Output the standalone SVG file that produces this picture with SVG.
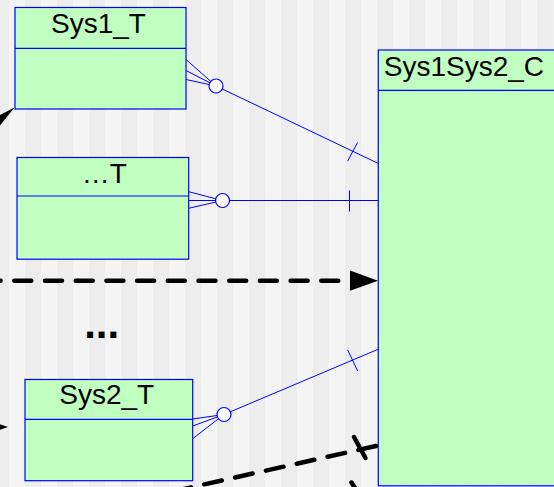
<svg xmlns="http://www.w3.org/2000/svg" width="554" height="487" viewBox="0 0 554 487">
  <defs>
    <!-- vertical striped canvas -->
    <pattern id="stripes" patternUnits="userSpaceOnUse" x="0" y="0" width="32" height="487">
      <rect x="0" y="0" width="32" height="487" fill="#ededed"/>
      <rect x="9" y="0" width="16" height="487" fill="#f4f4f4"/>
    </pattern>
    <style>
      .box { fill: #c0ffc0; stroke: #0000ff; stroke-width: 1.2; }
      .sep { stroke: #0000ff; stroke-width: 1.2; fill: none; }
      .title { font-family: "Liberation Sans", Arial, sans-serif; font-size: 28px; fill: #000; }
      .rel { stroke: #0000ff; stroke-width: 1; fill: none; }
      .opt { fill: #ffffff; stroke: #0000ff; stroke-width: 1.2; }
      .dash { stroke: #000; stroke-width: 4.5; stroke-linecap: round; fill: none; }
      .head { fill: #000; }
      .dots { font-family: "Liberation Sans", Arial, sans-serif; font-size: 42px; font-weight: bold; fill: #000; }
    </style>
  </defs>

  <rect x="0" y="0" width="554" height="487" fill="url(#stripes)"/>

  <!-- connectors -->
  <g id="connectors">
    <!-- Sys1_T to Sys1Sys2_C -->
    <g id="rel-sys1">
      <line class="rel" x1="186" y1="59.5" x2="216" y2="86"/>
      <line class="rel" x1="186" y1="70.5" x2="216" y2="86"/>
      <line class="rel" x1="186" y1="79.5" x2="216" y2="86"/>
      <line class="rel" x1="216" y1="86" x2="378" y2="163.3"/>
      <line class="rel" x1="347.6" y1="161.2" x2="357.6" y2="142.4"/>
      <circle class="opt" cx="216" cy="86" r="7"/>
    </g>
    <!-- ...T to Sys1Sys2_C -->
    <g id="rel-etc">
      <line class="rel" x1="188.7" y1="191.7" x2="222.5" y2="200.5"/>
      <line class="rel" x1="188.7" y1="200.5" x2="222.5" y2="200.5"/>
      <line class="rel" x1="188.7" y1="208.3" x2="222.5" y2="200.5"/>
      <line class="rel" x1="222.5" y1="200.5" x2="378" y2="200.5"/>
      <line class="rel" x1="349.5" y1="190.5" x2="349.5" y2="211.5"/>
      <circle class="opt" cx="222.5" cy="200.5" r="7"/>
    </g>
    <!-- Sys2_T to Sys1Sys2_C -->
    <g id="rel-sys2">
      <line class="rel" x1="192.7" y1="419" x2="224" y2="414.5"/>
      <line class="rel" x1="192.7" y1="426" x2="224" y2="414.5"/>
      <line class="rel" x1="192.7" y1="438.7" x2="224" y2="414.5"/>
      <line class="rel" x1="224" y1="414.5" x2="378" y2="349.3"/>
      <line class="rel" x1="347.7" y1="350" x2="357.7" y2="371"/>
      <circle class="opt" cx="224" cy="414.5" r="7"/>
    </g>

    <!-- dependency arrows -->
    <g id="dep-horizontal">
      <line class="dash" x1="-16.4" y1="280.7" x2="350" y2="280.7" stroke-dasharray="17 13.7"/>
      <polygon class="head" points="378,280.7 350,270.6 350,290.8"/>
    </g>
    <g id="dep-bottom">
      <line class="dash" x1="376" y1="446" x2="150" y2="496.5" stroke-dasharray="18 13.6"/>
      <line class="dash" x1="354" y1="437" x2="365.5" y2="458"/>
      <line class="dash" x1="351.5" y1="482.5" x2="358" y2="493"/>
    </g>
    <polygon id="dep-head-sys1" class="head" points="14.5,107.5 -6,118.1 -6,133"/>
    <polygon id="dep-head-sys2" class="head" points="8,427 -20,417 -20,437"/>
  </g>

  <!-- nodes -->
  <g id="sys1_t">
    <rect class="box" x="15" y="7.5" width="171" height="101.5"/>
    <line class="sep" x1="15" y1="48.3" x2="186" y2="48.3"/>
    <text class="title" x="98.5" y="33.3" text-anchor="middle">Sys1_T</text>
  </g>

  <g id="etc_t">
    <rect class="box" x="17" y="157.5" width="171.7" height="101.7"/>
    <line class="sep" x1="17" y1="196" x2="188.7" y2="196"/>
    <text class="title" x="104.3" y="183.3" text-anchor="middle">…T</text>
  </g>

  <g id="sys2_t">
    <rect class="box" x="25" y="379.5" width="167.7" height="101.2"/>
    <line class="sep" x1="25" y1="419.3" x2="192.7" y2="419.3"/>
    <text class="title" x="106.7" y="404.3" text-anchor="middle">Sys2_T</text>
  </g>

  <g id="sys1sys2_c">
    <rect class="box" x="378.3" y="50" width="190" height="435.8"/>
    <line class="sep" x1="378.3" y1="90.3" x2="568" y2="90.3"/>
    <text class="title" x="383.8" y="76">Sys1Sys2_C</text>
  </g>

  <g id="more">
    <text class="dots" x="101.7" y="338.3" text-anchor="middle">...</text>
  </g>
</svg>
